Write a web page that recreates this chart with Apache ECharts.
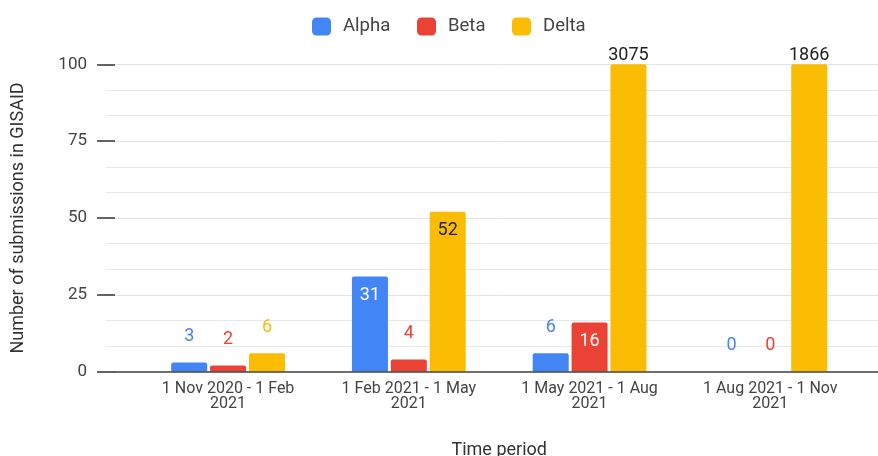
<!DOCTYPE html>
<html>
<head>
<meta charset="utf-8">
<script src="https://cdn.jsdelivr.net/npm/echarts@6/dist/echarts.min.js"></script>
<style>html,body{margin:0;padding:0;background:#fff}#c{width:878px;height:456px}</style>
</head>
<body>
<div id="c"></div>
<script>
var categories = ["1 Nov 2020 - 1 Feb\n2021", "1 Feb 2021 - 1 May\n2021", "1 May 2021 - 1 Aug\n2021", "1 Aug 2021 - 1 Nov\n2021"];
var seriesNames = ['Alpha', 'Beta', 'Delta'];
var alpha = [3, 31, 6, 0];
var beta = [2, 4, 16, 0];
var delta = [6, 52, 3075, 1866];
var yTicks = [0, 25, 50, 75, 100];

var AXIS_MAX = 100;
var colors = { Alpha: '#4285F4', Beta: '#EA4335', Delta: '#FBBC04' };
var insideColor = { Alpha: '#ffffff', Beta: '#ffffff', Delta: '#222222' };
var legendLeft = { Alpha: 312, Beta: 417, Delta: 512 };
var FONT = 'Roboto, "Noto Sans", sans-serif';

function buildData(name, arr) {
  return arr.map(function (v) {
    var item = { value: Math.min(v, AXIS_MAX), raw: v };
    if (v > AXIS_MAX) {
      item.label = { position: 'top', distance: 0, color: '#222' };
    } else if (v >= 10) {
      item.label = { position: 'insideTop', distance: 10, color: insideColor[name] };
    } else {
      item.label = { position: 'top', distance: 17, color: colors[name] };
    }
    return item;
  });
}

function mkSeries(name, arr) {
  return {
    name: name, type: 'bar', xAxisIndex: 2, yAxisIndex: 2, z: 3,
    barWidth: 36, barGap: '8%',
    itemStyle: { color: colors[name], borderRadius: [2, 2, 0, 0] },
    label: {
      show: true, fontSize: 18, fontFamily: FONT,
      formatter: function (p) { return String(p.data.raw); }
    },
    data: buildData(name, arr)
  };
}

var legends = seriesNames.map(function (n) {
  return {
    data: [n], left: legendLeft[n], top: 17, padding: 0,
    itemWidth: 19, itemHeight: 18, icon: 'roundRect',
    textStyle: { fontSize: 18.5, color: '#444', fontFamily: FONT, padding: [0, 0, 0, 7] }
  };
});

var chart = echarts.init(document.getElementById('c'));
chart.setOption({
  animation: false,
  textStyle: { fontFamily: FONT },
  legend: legends,
  grid: [
    { left: 115, right: 0, top: 64.3, bottom: 84.3, outerBoundsMode: 'none', containLabel: false },
    { left: 106, right: 0, top: 64.3, bottom: 84.3, outerBoundsMode: 'none', containLabel: false },
    { left: 137.7, right: 17.3, top: 64.3, bottom: 84.3, outerBoundsMode: 'none', containLabel: false }
  ],
  xAxis: [
    { gridIndex: 0, type: 'value', min: 0, max: 1, axisLabel: { show: false }, axisTick: { show: false }, splitLine: { show: false },
      axisLine: { show: true, lineStyle: { color: '#444', width: 1.5 } }, z: 5 },
    { gridIndex: 1, type: 'value', min: 0, max: 1, show: false },
    { gridIndex: 2, type: 'category', data: categories,
      axisLine: { show: false }, axisTick: { show: false },
      axisLabel: { margin: 10, fontSize: 16, lineHeight: 15, color: '#444', fontFamily: FONT, interval: 0 },
      name: 'Time period', nameLocation: 'middle', nameGap: 70,
      nameTextStyle: { fontSize: 18, color: '#333', fontFamily: FONT } }
  ],
  yAxis: [
    { gridIndex: 0, type: 'value', min: yTicks[0], max: yTicks[yTicks.length - 1], interval: yTicks[1] - yTicks[0],
      axisLine: { show: false },
      axisTick: { show: true, length: 18, lineStyle: { color: '#333', width: 1.5 } },
      axisLabel: { margin: 28, fontSize: 17, color: '#444', fontFamily: FONT },
      splitLine: { show: true, lineStyle: { color: '#e3e3e3', width: 1 } },
      name: 'Number of submissions in GISAID', nameLocation: 'middle', nameGap: 88,
      nameTextStyle: { fontSize: 18, color: '#333', fontFamily: FONT }, z: 1 },
    { gridIndex: 1, type: 'value', min: 0, max: AXIS_MAX, interval: (yTicks[1] - yTicks[0]) / 3,
      axisLine: { show: false }, axisTick: { show: false }, axisLabel: { show: false },
      splitLine: { show: true, lineStyle: { color: '#e8e8e8', width: 1 } }, z: 0 },
    { gridIndex: 2, type: 'value', min: 0, max: AXIS_MAX, show: false, splitLine: { show: false } }
  ],
  series: [mkSeries('Alpha', alpha), mkSeries('Beta', beta), mkSeries('Delta', delta)]
});
</script>
</body>
</html>
